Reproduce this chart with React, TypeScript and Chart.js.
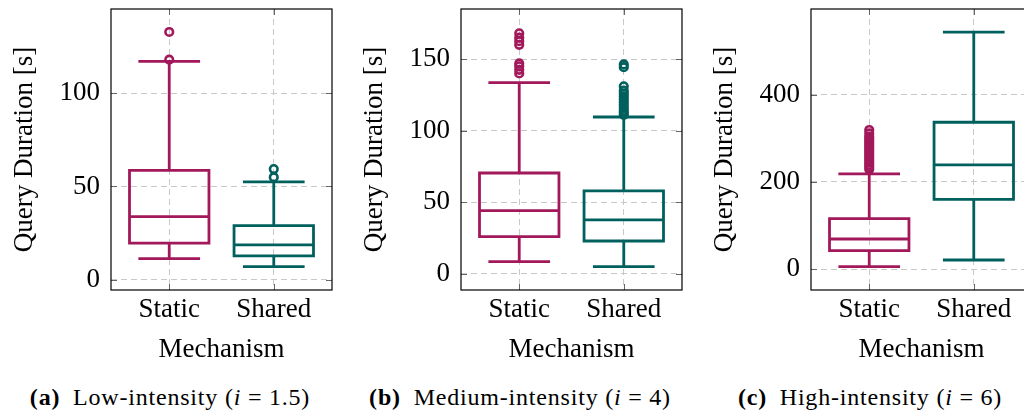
import React, { useEffect, useRef } from 'react';
import { Chart, registerables } from 'chart.js';

Chart.register(...registerables);

const FAMILY = 'Liberation Serif';

const categories = ['Static', 'Shared'];
const seriesColors = ['#A2195B', '#00605E'];

// (a) Low-intensity (i = 1.5)
const lowWhiskerMin = [11.4, 7.1];
const lowQ1 = [19.7, 12.9];
const lowMedian = [33.9, 18.8];
const lowQ3 = [58.6, 29.1];
const lowWhiskerMax = [117.0, 52.5];
const lowOutliersStatic = [117.9, 132.7];
const lowOutliersShared = [55.0, 59.3];
const lowYTicks = [0, 50, 100];
const lowYRange = [-5.4, 145];

// (b) Medium-intensity (i = 4)
const medWhiskerMin = [8.6, 5.1];
const medQ1 = [26.0, 23.0];
const medMedian = [44.2, 37.7];
const medQ3 = [70.5, 58.0];
const medWhiskerMax = [133.6, 109.6];
const medOutliersStatic = [140, 142.5, 145, 147, 160, 162.5, 165, 168];
const medOutliersShared = [111, 112.5, 114, 116, 118, 120, 122, 124, 126, 128, 131, 144.4, 146.3];
const medYTicks = [0, 50, 100, 150];
const medYRange = [-11.2, 185];

// (c) High-intensity (i = 6)
const highWhiskerMin = [6.0, 21.3];
const highQ1 = [42.6, 160.3];
const highMedian = [69.4, 239.0];
const highQ3 = [116.0, 336.7];
const highWhiskerMax = [218.3, 543.0];
const highOutliersStatic = [229, 234, 239, 244, 249, 254, 259, 264, 269, 274, 279, 284, 289, 294, 299, 304, 311, 319];
const highOutliersShared: number[] = [];
const highYTicks = [0, 200, 400];
const highYRange = [-47.4, 596];

const BOX_HALF = 0.38;
const CAP_HALF = 0.295;
const LINE_W = 2.8;

type PanelData = {
  wMin: number[];
  q1: number[];
  med: number[];
  q3: number[];
  wMax: number[];
  outliers: number[][];
  yTicks: number[];
  yRange: number[];
};

function makeBoxPlugin(p: PanelData) {
  return {
    id: 'boxplot',
    beforeDatasetsDraw(chart: any) {
      const { ctx } = chart;
      const x = chart.scales.x;
      const y = chart.scales.y;
      ctx.save();
      ctx.lineWidth = LINE_W;
      ctx.lineCap = 'butt';
      ctx.lineJoin = 'miter';
      ctx.setLineDash([]);
      categories.forEach((_, i) => {
        const xc = x.getPixelForValue(i);
        const xl = x.getPixelForValue(i - BOX_HALF);
        const xr = x.getPixelForValue(i + BOX_HALF);
        const cl = x.getPixelForValue(i - CAP_HALF);
        const cr = x.getPixelForValue(i + CAP_HALF);
        const yq1 = y.getPixelForValue(p.q1[i]);
        const yq3 = y.getPixelForValue(p.q3[i]);
        const ym = y.getPixelForValue(p.med[i]);
        const ylo = y.getPixelForValue(p.wMin[i]);
        const yhi = y.getPixelForValue(p.wMax[i]);
        ctx.strokeStyle = seriesColors[i];
        ctx.beginPath();
        ctx.rect(xl, yq3, xr - xl, yq1 - yq3);
        ctx.moveTo(xl, ym);
        ctx.lineTo(xr, ym);
        ctx.moveTo(xc, yq3);
        ctx.lineTo(xc, yhi);
        ctx.moveTo(cl, yhi);
        ctx.lineTo(cr, yhi);
        ctx.moveTo(xc, yq1);
        ctx.lineTo(xc, ylo);
        ctx.moveTo(cl, ylo);
        ctx.lineTo(cr, ylo);
        ctx.stroke();
      });
      ctx.restore();
    },
  };
}

const framePlugin = {
  id: 'frame',
  afterDraw(chart: any) {
    const { ctx, chartArea: a } = chart;
    const x = chart.scales.x;
    const y = chart.scales.y;
    ctx.save();
    ctx.setLineDash([]);
    ctx.strokeStyle = '#666';
    ctx.lineWidth = 1;
    ctx.beginPath();
    y.ticks.forEach((t: any) => {
      const py = Math.round(y.getPixelForValue(t.value)) + 0.5;
      ctx.moveTo(a.left, py);
      ctx.lineTo(a.left + 6, py);
      ctx.moveTo(a.right, py);
      ctx.lineTo(a.right - 6, py);
    });
    x.ticks.forEach((t: any) => {
      const px = Math.round(x.getPixelForValue(t.value)) + 0.5;
      ctx.moveTo(px, a.bottom);
      ctx.lineTo(px, a.bottom - 6);
      ctx.moveTo(px, a.top);
      ctx.lineTo(px, a.top + 6);
    });
    ctx.stroke();
    ctx.strokeStyle = '#000';
    ctx.lineWidth = 1.2;
    ctx.strokeRect(a.left, a.top, a.right - a.left, a.bottom - a.top);
    ctx.restore();
  },
};

function Panel({ left, data, caption }: { left: number; data: PanelData; caption: React.ReactNode }) {
  const ref = useRef<HTMLCanvasElement>(null);
  useEffect(() => {
    if (!ref.current) return;
    const datasets = data.outliers.map((vals, i) => ({
      label: categories[i],
      data: vals.map((v) => ({ x: i, y: v })),
      pointRadius: 3.8,
      pointBorderWidth: 2.6,
      pointBorderColor: seriesColors[i],
      pointBackgroundColor: 'rgba(0,0,0,0)',
      showLine: false,
    }));
    const chart = new Chart(ref.current, {
      type: 'scatter',
      data: { datasets },
      plugins: [makeBoxPlugin(data), framePlugin],
      options: {
        responsive: false,
        animation: false,
        devicePixelRatio: 1,
        events: [],
        layout: { padding: { top: 9, right: 8, left: 0, bottom: 0 } },
        plugins: { legend: { display: false }, tooltip: { enabled: false } },
        scales: {
          x: {
            type: 'linear',
            min: -0.557,
            max: 1.557,
            afterBuildTicks: (s: any) => {
              s.ticks = categories.map((_, i) => ({ value: i }));
            },
            afterFit: (s: any) => {
              s.height = 80;
              s.paddingLeft = 0;
              s.paddingRight = 0;
            },
            ticks: {
              callback: (v: any) => categories[Math.round(Number(v))] ?? '',
              padding: 4,
              color: '#000',
              font: { family: FAMILY, size: 27 },
              maxRotation: 0,
              autoSkip: false,
            },
            grid: { color: '#c8c8c8', lineWidth: 1, drawTicks: false },
            border: { display: false, dash: [6, 4] },
            title: {
              display: true,
              text: 'Mechanism',
              color: '#000',
              font: { family: FAMILY, size: 27 },
              padding: { top: 0, bottom: 4 },
            },
          },
          y: {
            type: 'linear',
            min: data.yRange[0],
            max: data.yRange[1],
            afterBuildTicks: (s: any) => {
              s.ticks = data.yTicks.map((v) => ({ value: v }));
            },
            afterFit: (s: any) => {
              s.width = 111;
              s.paddingTop = 0;
              s.paddingBottom = 0;
            },
            ticks: { padding: 11, color: '#000', font: { family: FAMILY, size: 27 } },
            grid: { color: '#c8c8c8', lineWidth: 1, drawTicks: false },
            border: { display: false, dash: [6, 4] },
            title: {
              display: true,
              text: 'Query Duration [s]',
              color: '#000',
              font: { family: FAMILY, size: 27 },
              padding: { top: 9, bottom: 0 },
            },
          },
        },
      } as any,
    });
    return () => chart.destroy();
  }, [data]);

  return (
    <>
      <canvas
        ref={ref}
        width={340}
        height={370}
        style={{ position: 'absolute', left, top: 0 }}
      />
      <div
        style={{
          position: 'absolute',
          left,
          top: 382,
          width: 340,
          textAlign: 'center',
          fontFamily: FAMILY,
          fontSize: 24,
          letterSpacing: '0.8px',
          lineHeight: '30px',
          color: '#000',
          whiteSpace: 'nowrap',
        }}
      >
        {caption}
      </div>
    </>
  );
}

const lowData: PanelData = {
  wMin: lowWhiskerMin, q1: lowQ1, med: lowMedian, q3: lowQ3, wMax: lowWhiskerMax,
  outliers: [lowOutliersStatic, lowOutliersShared], yTicks: lowYTicks, yRange: lowYRange,
};
const medData: PanelData = {
  wMin: medWhiskerMin, q1: medQ1, med: medMedian, q3: medQ3, wMax: medWhiskerMax,
  outliers: [medOutliersStatic, medOutliersShared], yTicks: medYTicks, yRange: medYRange,
};
const highData: PanelData = {
  wMin: highWhiskerMin, q1: highQ1, med: highMedian, q3: highQ3, wMax: highWhiskerMax,
  outliers: [highOutliersStatic, highOutliersShared], yTicks: highYTicks, yRange: highYRange,
};

const eq: React.CSSProperties = { margin: '0 0.28em' };
const lab: React.CSSProperties = { marginRight: '0.25em' };

export default function App() {
  return (
    <div
      style={{
        position: 'absolute',
        left: 0,
        top: 0,
        width: 1024,
        height: 412,
        overflow: 'hidden',
        background: '#fff',
      }}
    >
      <Panel
        left={0}
        data={lowData}
        caption={<><b style={lab}>(a)</b> Low-intensity (<i>i</i><span style={eq}>=</span>1.5)</>}
      />
      <Panel
        left={350}
        data={medData}
        caption={<><b style={lab}>(b)</b> Medium-intensity (<i>i</i><span style={eq}>=</span>4)</>}
      />
      <Panel
        left={700}
        data={highData}
        caption={<><b style={lab}>(c)</b> High-intensity (<i>i</i><span style={eq}>=</span>6)</>}
      />
    </div>
  );
}
